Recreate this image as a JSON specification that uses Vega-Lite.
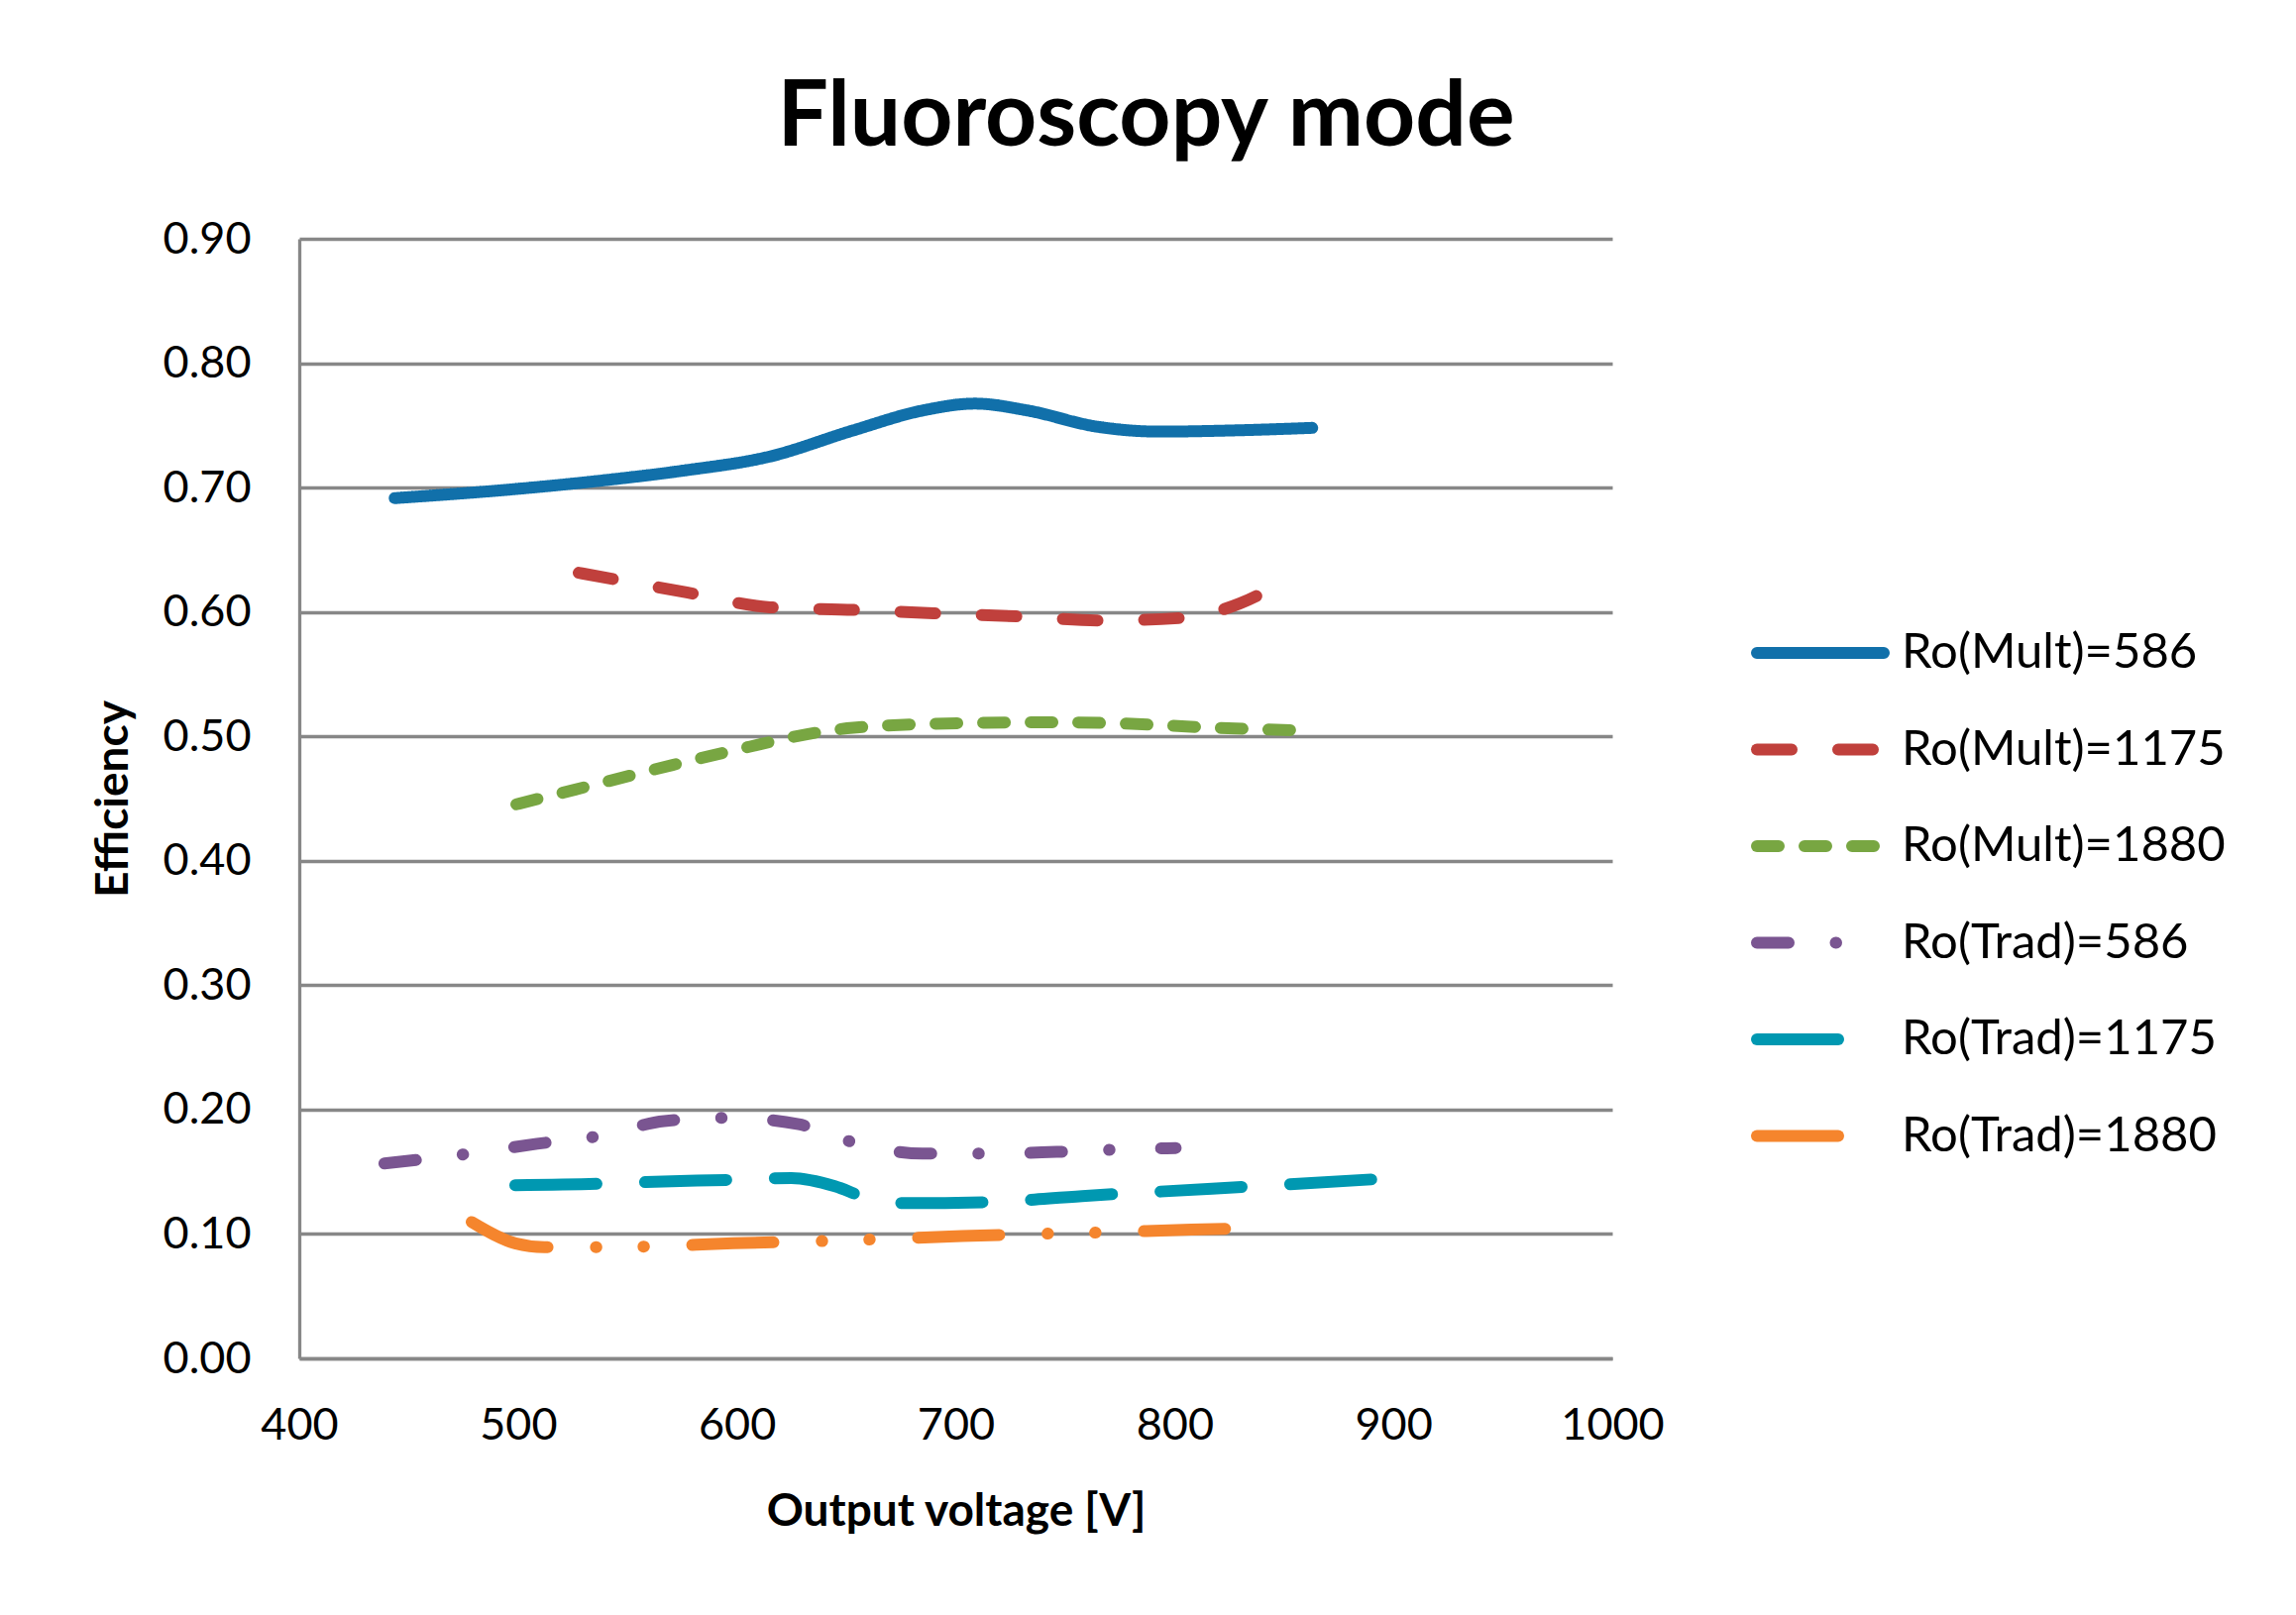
{
  "$schema": "https://vega.github.io/schema/vega-lite/v6.json",
  "width": 1325,
  "height": 1130,
  "autosize": {"type": "none"},
  "padding": {"left": 302, "top": 241, "right": 690, "bottom": 259},
  "background": "white",
  "title": {
    "text": "Fluoroscopy mode",
    "font": "Lato",
    "fontSize": 91,
    "fontWeight": "bold",
    "color": "black",
    "anchor": "middle",
    "frame": "group",
    "baseline": "alphabetic",
    "dx": 192,
    "dy": 89,
    "offset": 70
  },
  "data": {
    "values": [
      {"s": "Ro(Mult)=586", "v": 443.6, "e": 0.6915},
      {"s": "Ro(Mult)=586", "v": 500, "e": 0.699},
      {"s": "Ro(Mult)=586", "v": 540, "e": 0.706},
      {"s": "Ro(Mult)=586", "v": 575, "e": 0.7135},
      {"s": "Ro(Mult)=586", "v": 615.1, "e": 0.725},
      {"s": "Ro(Mult)=586", "v": 653.2, "e": 0.746},
      {"s": "Ro(Mult)=586", "v": 685.0, "e": 0.762},
      {"s": "Ro(Mult)=586", "v": 708.8, "e": 0.7675},
      {"s": "Ro(Mult)=586", "v": 732.7, "e": 0.762},
      {"s": "Ro(Mult)=586", "v": 764.4, "e": 0.749},
      {"s": "Ro(Mult)=586", "v": 793.0, "e": 0.745},
      {"s": "Ro(Mult)=586", "v": 827.9, "e": 0.746},
      {"s": "Ro(Mult)=586", "v": 862.9, "e": 0.748},

      {"s": "Ro(Mult)=1175", "v": 527.7, "e": 0.6315},
      {"s": "Ro(Mult)=1175", "v": 577.0, "e": 0.6157},
      {"s": "Ro(Mult)=1175", "v": 615.1, "e": 0.6038},
      {"s": "Ro(Mult)=1175", "v": 653.2, "e": 0.6017},
      {"s": "Ro(Mult)=1175", "v": 689.8, "e": 0.599},
      {"s": "Ro(Mult)=1175", "v": 729.5, "e": 0.5964},
      {"s": "Ro(Mult)=1175", "v": 767.6, "e": 0.5932},
      {"s": "Ro(Mult)=1175", "v": 804.1, "e": 0.5953},
      {"s": "Ro(Mult)=1175", "v": 830.0, "e": 0.607},
      {"s": "Ro(Mult)=1175", "v": 851.5, "e": 0.6263},

      {"s": "Ro(Mult)=1880", "v": 499.2, "e": 0.4454},
      {"s": "Ro(Mult)=1880", "v": 526.2, "e": 0.4573},
      {"s": "Ro(Mult)=1880", "v": 570.6, "e": 0.477},
      {"s": "Ro(Mult)=1880", "v": 605.6, "e": 0.4916},
      {"s": "Ro(Mult)=1880", "v": 627.8, "e": 0.5003},
      {"s": "Ro(Mult)=1880", "v": 653.2, "e": 0.5069},
      {"s": "Ro(Mult)=1880", "v": 700.9, "e": 0.5106},
      {"s": "Ro(Mult)=1880", "v": 742.2, "e": 0.5114},
      {"s": "Ro(Mult)=1880", "v": 780.3, "e": 0.5101},
      {"s": "Ro(Mult)=1880", "v": 812.1, "e": 0.5074},
      {"s": "Ro(Mult)=1880", "v": 857.0, "e": 0.5048},

      {"s": "Ro(Trad)=586", "v": 438.9, "e": 0.1567},
      {"s": "Ro(Trad)=586", "v": 477.8, "e": 0.1646},
      {"s": "Ro(Trad)=586", "v": 508.7, "e": 0.1725},
      {"s": "Ro(Trad)=586", "v": 537.9, "e": 0.179},
      {"s": "Ro(Trad)=586", "v": 566.8, "e": 0.1908},
      {"s": "Ro(Trad)=586", "v": 596.7, "e": 0.1934},
      {"s": "Ro(Trad)=586", "v": 628.2, "e": 0.1882},
      {"s": "Ro(Trad)=586", "v": 655.5, "e": 0.1725},
      {"s": "Ro(Trad)=586", "v": 684.7, "e": 0.1646},
      {"s": "Ro(Trad)=586", "v": 715.3, "e": 0.1646},
      {"s": "Ro(Trad)=586", "v": 746.1, "e": 0.166},
      {"s": "Ro(Trad)=586", "v": 775.4, "e": 0.168},
      {"s": "Ro(Trad)=586", "v": 800.5, "e": 0.1691},

      {"s": "Ro(Trad)=1175", "v": 498.7, "e": 0.1392},
      {"s": "Ro(Trad)=1175", "v": 538.6, "e": 0.1405},
      {"s": "Ro(Trad)=1175", "v": 558.5, "e": 0.1418},
      {"s": "Ro(Trad)=1175", "v": 598.3, "e": 0.1436},
      {"s": "Ro(Trad)=1175", "v": 624.9, "e": 0.145},
      {"s": "Ro(Trad)=1175", "v": 644.8, "e": 0.1384},
      {"s": "Ro(Trad)=1175", "v": 658.1, "e": 0.1298},
      {"s": "Ro(Trad)=1175", "v": 678.0, "e": 0.1248},
      {"s": "Ro(Trad)=1175", "v": 717.9, "e": 0.1258},
      {"s": "Ro(Trad)=1175", "v": 757.7, "e": 0.1305},
      {"s": "Ro(Trad)=1175", "v": 797.6, "e": 0.1345},
      {"s": "Ro(Trad)=1175", "v": 837.4, "e": 0.1384},
      {"s": "Ro(Trad)=1175", "v": 900.6, "e": 0.145},

      {"s": "Ro(Trad)=1880", "v": 478.8, "e": 0.1096},
      {"s": "Ro(Trad)=1880", "v": 498.7, "e": 0.0925},
      {"s": "Ro(Trad)=1880", "v": 512.0, "e": 0.0894},
      {"s": "Ro(Trad)=1880", "v": 536.3, "e": 0.0894},
      {"s": "Ro(Trad)=1880", "v": 558.5, "e": 0.0899},
      {"s": "Ro(Trad)=1880", "v": 598.3, "e": 0.0925},
      {"s": "Ro(Trad)=1880", "v": 640.5, "e": 0.0944},
      {"s": "Ro(Trad)=1880", "v": 662.5, "e": 0.0957},
      {"s": "Ro(Trad)=1880", "v": 702.9, "e": 0.0983},
      {"s": "Ro(Trad)=1880", "v": 744.5, "e": 0.1004},
      {"s": "Ro(Trad)=1880", "v": 766.7, "e": 0.1012},
      {"s": "Ro(Trad)=1880", "v": 807.6, "e": 0.1035},
      {"s": "Ro(Trad)=1880", "v": 829.2, "e": 0.1043}
    ]
  },
  "mark": {
    "type": "line",
    "strokeWidth": 12,
    "strokeCap": "round",
    "interpolate": "monotone"
  },
  "encoding": {
    "x": {
      "field": "v",
      "type": "quantitative",
      "scale": {"domain": [400, 1000], "nice": false, "zero": false},
      "axis": {
        "values": [400, 500, 600, 700, 800, 900, 1000],
        "format": "d",
        "grid": false,
        "title": "Output voltage [V]",
        "labelPadding": 45,
        "titlePadding": 42
      }
    },
    "y": {
      "field": "e",
      "type": "quantitative",
      "scale": {"domain": [0, 0.9], "nice": false},
      "axis": {
        "values": [0, 0.1, 0.2, 0.3, 0.4, 0.5, 0.6, 0.7, 0.8, 0.9],
        "format": ".2f",
        "grid": true,
        "title": "Efficiency",
        "labelPadding": 49,
        "titlePadding": 26
      }
    },
    "color": {
      "field": "s",
      "type": "nominal",
      "scale": {
        "domain": ["Ro(Mult)=586", "Ro(Mult)=1175", "Ro(Mult)=1880", "Ro(Trad)=586", "Ro(Trad)=1175", "Ro(Trad)=1880"],
        "range": ["#1170AA", "#C0403C", "#78A642", "#7A5591", "#0098B1", "#F5852D"]
      },
      "legend": {
        "title": null,
        "orient": "none",
        "legendX": 1465,
        "legendY": 348,
        "padding": 0,
        "symbolType": "stroke",
        "symbolSize": 16384,
        "symbolStrokeWidth": 12,
        "labelFont": "Lato",
        "labelFontSize": 49,
        "labelColor": "black",
        "labelOffset": 12,
        "rowPadding": 2.5,
        "labelLimit": 600,
        "encode": {"symbols": {"update": {"strokeCap": {"value": "round"}}}}
      }
    },
    "strokeDash": {
      "field": "s",
      "type": "nominal",
      "scale": {
        "domain": ["Ro(Mult)=586", "Ro(Mult)=1175", "Ro(Mult)=1880", "Ro(Trad)=586", "Ro(Trad)=1175", "Ro(Trad)=1880"],
        "range": [[1, 0], [35, 47], [22, 26], [32, 47.5, 0.5, 52], [82, 49], [82, 48.75, 0.5, 47.5, 0.5, 48.75]]
      },
      "legend": {
        "title": null,
        "orient": "none",
        "legendX": 1465,
        "legendY": 348,
        "padding": 0,
        "symbolType": "stroke",
        "symbolSize": 16384,
        "symbolStrokeWidth": 12,
        "labelFont": "Lato",
        "labelFontSize": 49,
        "labelColor": "black",
        "labelOffset": 12,
        "rowPadding": 2.5,
        "labelLimit": 600,
        "encode": {"symbols": {"update": {"strokeCap": {"value": "round"}}}}
      }
    }
  },
  "config": {
    "view": {"stroke": null},
    "axis": {
      "labelFont": "Lato",
      "labelFontSize": 45,
      "labelColor": "black",
      "titleFont": "Lato",
      "titleFontSize": 46,
      "titleFontWeight": "bold",
      "titleColor": "black",
      "ticks": false,
      "domainColor": "#878787",
      "domainWidth": 3.3,
      "gridColor": "#878787",
      "gridWidth": 3.3,
      "gridOpacity": 1,
      "labelFlush": false,
      "labelOverlap": false
    }
  }
}
